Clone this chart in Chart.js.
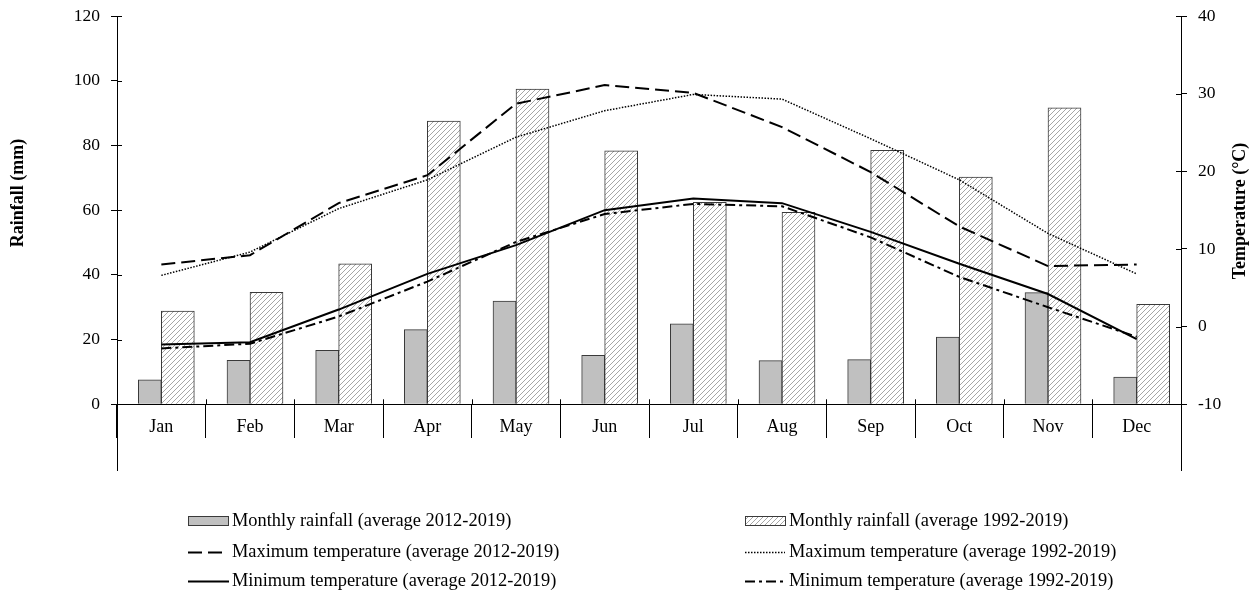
<!DOCTYPE html>
<html>
<head>
<meta charset="utf-8">
<title>Monthly rainfall and temperature</title>
<script src="https://cdn.jsdelivr.net/npm/chart.js@4.4.1/dist/chart.umd.min.js"></script>
<style>
  html, body { margin: 0; padding: 0; background: #ffffff; }
  #wrap { width: 1254px; height: 594px; }
</style>
</head>
<body>
<div id="wrap"><canvas id="chart" width="1254" height="594"></canvas></div>
<script>
// ---- data ----
const months = ['Jan', 'Feb', 'Mar', 'Apr', 'May', 'Jun', 'Jul', 'Aug', 'Sep', 'Oct', 'Nov', 'Dec'];
const rain2012_2019 = [7.6, 13.6, 16.7, 23.1, 31.9, 15.1, 24.9, 13.5, 13.8, 20.8, 34.5, 8.4];
const rain1992_2019 = [28.8, 34.6, 43.4, 87.5, 97.4, 78.3, 62.4, 59.3, 78.5, 70.2, 91.6, 30.9];
const tmax2012_2019 = [8.0, 9.2, 15.9, 19.5, 28.7, 31.1, 30.1, 25.7, 19.9, 12.9, 7.8, 8.0];
const tmax1992_2019 = [6.6, 9.6, 15.2, 18.9, 24.4, 27.8, 29.9, 29.3, 24.2, 18.9, 12.0, 6.8];
const tmin2012_2019 = [-2.3, -2.0, 2.2, 6.8, 10.5, 15.0, 16.5, 15.9, 12.2, 8.1, 4.2, -1.6];
const tmin1992_2019 = [-2.8, -2.2, 1.3, 5.8, 10.9, 14.5, 15.8, 15.5, 11.5, 6.4, 2.5, -1.3];
const rainTicks = [0, 20, 40, 60, 80, 100, 120];
const tempTicks = [-10, 0, 10, 20, 30, 40];

// ---- styling ----
const SERIF = '"Liberation Serif", "Times New Roman", Times, serif';
const canvas = document.getElementById('chart');
const ctx = canvas.getContext('2d');

// diagonal hatch fill for the long-term rainfall bars
function makeHatch() {
  const s = 5;
  const tile = document.createElement('canvas');
  tile.width = s; tile.height = s;
  const g = tile.getContext('2d');
  g.fillStyle = '#ffffff';
  g.fillRect(0, 0, s, s);
  g.strokeStyle = '#a6a6a6';
  g.lineWidth = 1;
  g.beginPath();
  g.moveTo(0, s); g.lineTo(s, 0);
  g.moveTo(-1, 1); g.lineTo(1, -1);
  g.moveTo(s - 1, s + 1); g.lineTo(s + 1, s - 1);
  g.stroke();
  return ctx.createPattern(tile, 'repeat');
}
const hatch = makeHatch();

// axis titles, inner halves of the tick marks and a two-column legend
const decorations = {
  id: 'decorations',
  afterDraw(chart, args, opts) {
    const g = chart.ctx;
    const { x, y, y1 } = chart.scales;

    // tick marks cross the axis lines
    g.save();
    g.strokeStyle = '#000';
    g.lineWidth = 1;
    g.beginPath();
    y.ticks.forEach(t => {
      const py = Math.round(y.getPixelForValue(t.value)) + 0.5;
      g.moveTo(y.right, py); g.lineTo(y.right + opts.inner, py);
    });
    y1.ticks.forEach(t => {
      const py = Math.round(y1.getPixelForValue(t.value)) + 0.5;
      g.moveTo(y1.left - opts.inner, py); g.lineTo(y1.left, py);
    });
    const base = y.getPixelForValue(0);
    for (let k = 1; k < months.length; k++) {
      const px = Math.round(x.getPixelForValue(k - 0.5)) + 0.5;
      g.moveTo(px, base); g.lineTo(px, base - opts.inner);
    }
    g.stroke();
    g.restore();

    // rotated axis titles
    g.save();
    g.fillStyle = '#000';
    g.font = 'bold 18px ' + SERIF;
    g.textAlign = 'center';
    g.textBaseline = 'middle';
    opts.titles.forEach(t => {
      g.save();
      g.translate(t.x, t.y);
      g.rotate(-Math.PI / 2);
      g.fillText(t.text, 0, 0);
      g.restore();
    });
    g.restore();

    // legend: first column holds the 2012-2019 series, second the 1992-2019 series
    chart.data.datasets.forEach((ds, i) => {
      const x0 = opts.cols[i % 2];
      const yy = opts.rows[Math.floor(i / 2)];
      g.save();
      if (ds.type === 'bar') {
        g.fillStyle = ds.backgroundColor;
        g.fillRect(x0, yy - 5, opts.box, 10);
        g.strokeStyle = ds.borderColor;
        g.lineWidth = 1;
        g.strokeRect(x0 + 0.5, yy - 4.5, opts.box - 1, 9);
      } else {
        g.strokeStyle = ds.borderColor;
        g.lineWidth = ds.borderWidth;
        g.setLineDash(ds.borderDash || []);
        g.beginPath();
        g.moveTo(x0, yy + 0.5);
        g.lineTo(x0 + opts.sample[i], yy + 0.5);
        g.stroke();
      }
      g.setLineDash([]);
      g.fillStyle = '#000';
      g.font = '18.4px ' + SERIF;
      g.textAlign = 'left';
      g.textBaseline = 'middle';
      g.fillText(ds.label, x0 + opts.box + 3, yy);
      g.restore();
    });
  }
};

const tickFont = { family: SERIF, size: 17.5 };

new Chart(ctx, {
  data: {
    labels: months,
    datasets: [
      { type: 'bar', label: 'Monthly rainfall (average 2012-2019)', data: rain2012_2019, yAxisID: 'y',
        backgroundColor: '#c0c0c0', borderColor: '#3a3a3a', borderWidth: 1, barThickness: 23, order: 2 },
      { type: 'bar', label: 'Monthly rainfall (average 1992-2019)', data: rain1992_2019, yAxisID: 'y',
        backgroundColor: hatch, borderColor: '#3a3a3a', borderWidth: 1, barThickness: 33, order: 2 },
      { type: 'line', label: 'Maximum temperature (average 2012-2019)', data: tmax2012_2019, yAxisID: 'y1',
        borderColor: '#000', borderWidth: 2, borderDash: [14, 6], pointRadius: 0, tension: 0, order: 1 },
      { type: 'line', label: 'Maximum temperature (average 1992-2019)', data: tmax1992_2019, yAxisID: 'y1',
        borderColor: '#000', borderWidth: 1.5, borderDash: [1.5, 1.5], pointRadius: 0, tension: 0, order: 1 },
      { type: 'line', label: 'Minimum temperature (average 2012-2019)', data: tmin2012_2019, yAxisID: 'y1',
        borderColor: '#000', borderWidth: 2, pointRadius: 0, tension: 0, order: 1 },
      { type: 'line', label: 'Minimum temperature (average 1992-2019)', data: tmin1992_2019, yAxisID: 'y1',
        borderColor: '#000', borderWidth: 2, borderDash: [10, 4, 3, 4], pointRadius: 0, tension: 0, order: 1 }
    ]
  },
  options: {
    responsive: false,
    animation: false,
    events: [],
    layout: { padding: { top: 16, bottom: 124, left: 0, right: 0 } },
    plugins: {
      legend: { display: false },
      tooltip: { enabled: false },
      decorations: {
        inner: 5,
        titles: [
          { text: 'Rainfall (mm)', x: 18, y: 193 },
          { text: 'Temperature (°C)', x: 1240, y: 211 }
        ],
        cols: [188, 745],
        rows: [521, 552, 581],
        box: 41,
        sample: [41, 41, 34, 40, 41, 38]
      }
    },
    scales: {
      x: {
        type: 'category',
        position: { y: 0 },
        offset: true,
        grid: { offset: true, drawOnChartArea: false, tickLength: 33, color: '#000', lineWidth: 1 },
        border: { color: '#000', width: 1 },
        ticks: { color: '#000', font: { family: SERIF, size: 18 }, padding: -21, autoSkip: false, maxRotation: 0 },
        afterFit(s) { s.height = 0; s.paddingLeft = 0; s.paddingRight = 0; }
      },
      y: {
        type: 'linear',
        position: 'left',
        min: -20.3,
        max: 120,
        afterBuildTicks(s) { s.ticks = rainTicks.map(v => ({ value: v })); },
        grid: { drawOnChartArea: false, tickLength: 6, color: '#000' },
        border: { color: '#000', width: 1 },
        ticks: { color: '#000', font: tickFont, padding: 11 },
        afterFit(s) { s.width = 117; s.paddingTop = 0; s.paddingBottom = 0; }
      },
      y1: {
        type: 'linear',
        position: 'right',
        min: -18.46,
        max: 40,
        afterBuildTicks(s) { s.ticks = tempTicks.map(v => ({ value: v })); },
        grid: { drawOnChartArea: false, tickLength: 6, color: '#000' },
        border: { color: '#000', width: 1 },
        ticks: { color: '#000', font: tickFont, padding: 11 },
        afterFit(s) { s.width = 73; s.paddingTop = 0; s.paddingBottom = 0; }
      }
    }
  },
  plugins: [decorations]
});
</script>
</body>
</html>
